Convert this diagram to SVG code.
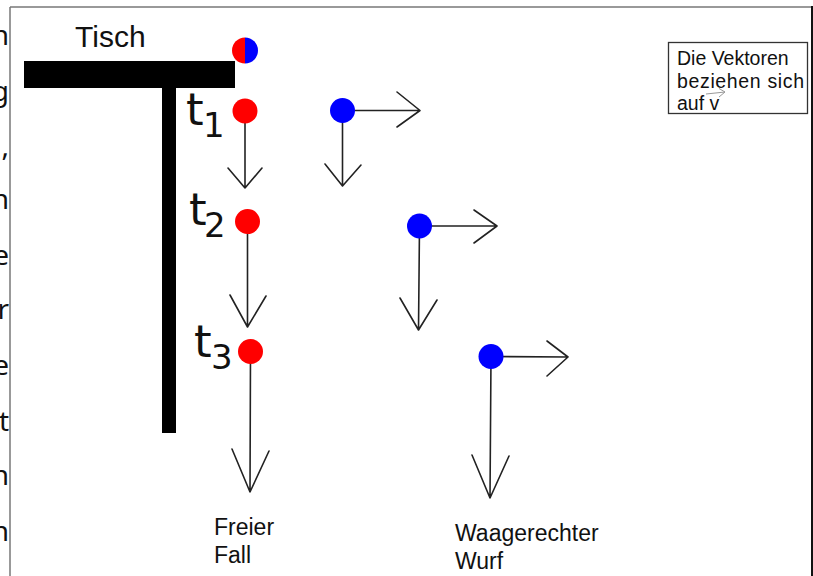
<svg xmlns="http://www.w3.org/2000/svg" width="813" height="576" viewBox="0 0 813 576">
<style>
.arr{fill:none;stroke:#222;stroke-width:1.6;stroke-linecap:round;stroke-linejoin:round}
.lbl{font-family:"Liberation Sans",Arial,sans-serif;fill:#111}
.t{font-family:"DejaVu Sans",sans-serif;fill:#111}
.edge{font-family:"Noto Sans","Open Sans",sans-serif;font-size:28px;fill:#111;text-anchor:end}
.red{fill:#ff0000}
.blue{fill:#0000ff}
</style>
<rect width="813" height="576" fill="#fff"/>
<!-- frame -->
<g id="frame">
<line x1="10" y1="7" x2="811" y2="7" stroke="#777" stroke-width="1.5"/>
<line x1="10" y1="7" x2="10" y2="576" stroke="#777" stroke-width="1.5"/>
<line x1="812" y1="6" x2="812" y2="576" stroke="#111" stroke-width="2"/>
</g>
<!-- clipped left column text -->
<g id="edge-text">
<text class="edge" x="9" y="45">n</text>
<text class="edge" x="9" y="101">g</text>
<text class="edge" x="9" y="156">,</text>
<text class="edge" x="9" y="209">n</text>
<text class="edge" x="9" y="265">e</text>
<text class="edge" x="9" y="319">r</text>
<text class="edge" x="9" y="375">e</text>
<text class="edge" x="9" y="431">t</text>
<text class="edge" x="9" y="485">n</text>
<text class="edge" x="9" y="541">n</text>
</g>
<g id="tisch">
<text class="lbl" x="75" y="47" font-size="30">Tisch</text>
<rect x="24" y="61" width="211" height="27" fill="#000"/>
<rect x="162" y="87" width="14" height="346" fill="#000"/>
</g>
<g id="ball-start">
<path class="red" d="M245,37.5 A13,13 0 0 0 245,63.5 Z"/>
<path class="blue" d="M245,37.5 A13,13 0 0 1 245,63.5 Z"/>
</g>
<g id="t1-label"><text class="t" x="186" y="125" font-size="45">t</text><text class="t" x="203" y="137" font-size="34">1</text></g>
<g id="t2-label"><text class="t" x="189" y="225" font-size="45">t</text><text class="t" x="204" y="237" font-size="34">2</text></g>
<g id="t3-label"><text class="t" x="194" y="357" font-size="45">t</text><text class="t" x="211" y="369" font-size="34">3</text></g>
<g id="connectors">
<!-- free fall -->
<path class="arr" d="M245,111 L245,188 M228,168 L245,188 L262,168"/>
<path class="arr" d="M247.5,221.5 L247.5,327 M230,295 L247.5,327 L266,296"/>
<path class="arr" d="M250.5,351.5 L250,492 M232,449 L250,492 L269,451"/>
<!-- horizontal throw -->
<path class="arr" d="M342.5,110.5 L420,110.5 M397,92 L420,110.5 L397,127"/>
<path class="arr" d="M342.5,110.5 L342.5,186 M325,164 L342.5,186 L361,165"/>
<path class="arr" d="M419.5,226 L497,226 M474,210 L497,226 L474,243"/>
<path class="arr" d="M419.5,226 L418.5,330 M400,298 L418.5,330 L437,300"/>
<path class="arr" d="M491,356.5 L568,357 M547,341 L568,357 L547,376"/>
<path class="arr" d="M491,356.5 L490,498 M472,455 L490,498 L509,456"/>
</g>
<g id="ff-t1"><circle class="red" cx="245" cy="111" r="12.5"/></g>
<g id="ff-t2"><circle class="red" cx="247.5" cy="221.5" r="12.5"/></g>
<g id="ff-t3"><circle class="red" cx="250.5" cy="351.5" r="12.5"/></g>
<g id="wt-t1"><circle class="blue" cx="342.5" cy="110.5" r="12.5"/></g>
<g id="wt-t2"><circle class="blue" cx="419.5" cy="226" r="12.5"/></g>
<g id="wt-t3"><circle class="blue" cx="491" cy="356.5" r="12.5"/></g>
<g id="label-ff">
<text class="lbl" x="214" y="535" font-size="23">Freier</text>
<text class="lbl" x="214" y="563" font-size="23">Fall</text>
</g>
<g id="label-wt">
<text class="lbl" x="455" y="541" font-size="23">Waagerechter</text>
<text class="lbl" x="455" y="569" font-size="23">Wurf</text>
</g>
<g id="note">
<rect x="668.5" y="42.5" width="139" height="71" fill="#fff" stroke="#333" stroke-width="1.3"/>
<text class="lbl" x="677" y="65" font-size="19.5">Die Vektoren</text>
<text class="lbl" x="677" y="87.5" font-size="19.5" textLength="127">beziehen sich</text>
<text class="lbl" x="677" y="110" font-size="19.5">auf v</text>
<path d="M706,94 L725,92 M719,88.5 L725,92 L719,97" fill="none" stroke="#999" stroke-width="1"/>
</g>
</svg>
